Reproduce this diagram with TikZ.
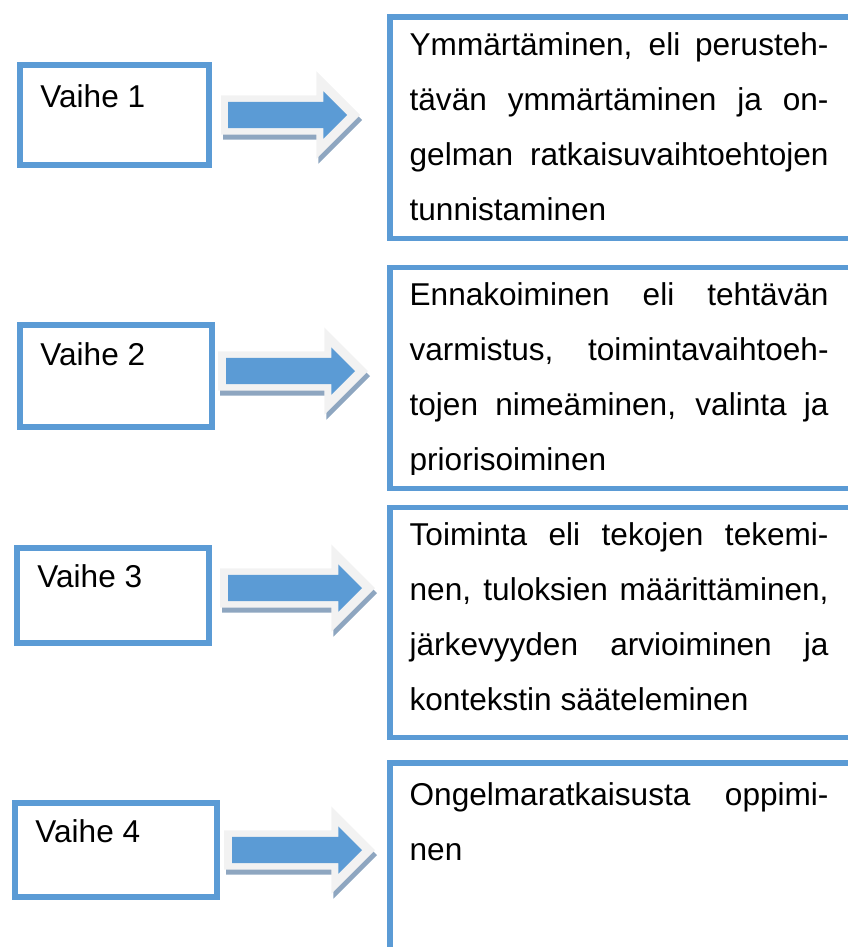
\documentclass[tikz,border=0pt]{standalone}
\usepackage{fontspec}
\setmainfont{Liberation Sans}
\usepackage{tikz}
\usetikzlibrary{positioning, shapes.arrows, shadows}
\definecolor{boxblue}{HTML}{5B9BD5}
\definecolor{rimgray}{HTML}{F2F2F2}
\definecolor{shadegray}{HTML}{8EA6C0}
\newcommand{\pxu}{0.38pt}
\tikzstyle{phase} = [rectangle, draw=boxblue, line width=2.3pt, anchor=north west, inner sep=0pt]
\tikzstyle{stagebox} = [rectangle, draw=boxblue, line width=2.1pt, anchor=north west, inner sep=0pt, minimum width=483*\pxu]
\tikzstyle{phaselabel} = [inner sep=0pt, font={\fontsize{12pt}{20.9pt}\selectfont}]
\tikzstyle{stagetext} = [inner sep=0pt, text width=159.2pt, align=justify, font={\fontsize{12pt}{20.9pt}\selectfont\tolerance=10000 \hyphenpenalty=10000 }]
\tikzstyle{arrowrim} = [single arrow, anchor=tail, fill=rimgray, inner xsep=0pt, inner ysep=19*\pxu, outer sep=0pt, single arrow head extend=24*\pxu, drop shadow={shadow xshift=0.76pt, shadow yshift=-1.9pt, fill=shadegray, opacity=1}]
\tikzstyle{arrowbody} = [single arrow, anchor=tail, fill=boxblue, inner xsep=0pt, inner ysep=12.5*\pxu, outer sep=0pt, single arrow head extend=10.5*\pxu]

\begin{document}
\begin{tikzpicture}[x=0.38pt, y=-0.38pt]
    \useasboundingbox (0,0) rectangle (848,947);
    \clip (0,0) rectangle (848,947);

    % phases
    \node[phase, minimum width=189*\pxu, minimum height=100*\pxu] (p1) at (17,62) {};
    \node[phase, minimum width=192*\pxu, minimum height=102*\pxu] (p2) at (17,322) {};
    \node[phase, minimum width=192*\pxu, minimum height=95*\pxu] (p3) at (14,545) {};
    \node[phase, minimum width=202*\pxu, minimum height=94*\pxu] (p4) at (12,800) {};

    \node[phaselabel, below right=17.2pt and 8.7pt of p1.north west, anchor=base west] (p1-l) {Vaihe 1};
    \node[phaselabel, below right=16.6pt and 8.7pt of p2.north west, anchor=base west] (p2-l) {Vaihe 2};
    \node[phaselabel, below right=16.3pt and 8.7pt of p3.north west, anchor=base west] (p3-l) {Vaihe 3};
    \node[phaselabel, below right=16.3pt and 8.7pt of p4.north west, anchor=base west] (p4-l) {Vaihe 4};

    % arrows
    \node[arrowrim, minimum height=139*\pxu] (a1-rim) at (221,115) {};
    \node[arrowbody, minimum height=119*\pxu] (a1) at (228,115) {};
    \node[arrowrim, minimum height=150*\pxu] (a2-rim) at (218,371) {};
    \node[arrowbody, minimum height=129*\pxu] (a2) at (226,371) {};
    \node[arrowrim, minimum height=155*\pxu] (a3-rim) at (220,588) {};
    \node[arrowbody, minimum height=134*\pxu] (a3) at (228,588) {};
    \node[arrowrim, minimum height=151*\pxu] (a4-rim) at (224,850) {};
    \node[arrowbody, minimum height=130*\pxu] (a4) at (232,850) {};

    % stages
    \node[stagebox, minimum height=221.5*\pxu] (s1) at (387,14) {};
    \node[stagebox, minimum height=221*\pxu] (s2) at (387,264.5) {};
    \node[stagebox, minimum height=230*\pxu] (s3) at (387,504.5) {};
    \node[stagebox, minimum height=230*\pxu] (s4) at (387,760) {};

    \node[stagetext, below right=15.6pt and 8.4pt of s1.north west, anchor=base west] (s1-t) {Ymmärtäminen, eli perusteh-\linebreak tävän ymmärtäminen ja on-\linebreak gelman ratkaisuvaihtoehtojen\linebreak tunnistaminen};
    \begin{scope}
        \clip (387,264.5) rectangle (848,474);
        \node[stagetext, below right=15.4pt and 8.4pt of s2.north west, anchor=base west] (s2-t) {Ennakoiminen eli tehtävän\linebreak varmistus, toimintavaihtoeh-\linebreak tojen nimeäminen, valinta ja\linebreak priorisoiminen};
    \end{scope}
    \node[stagetext, below right=15.4pt and 8.4pt of s3.north west, anchor=base west] (s3-t) {Toiminta eli tekojen tekemi-\linebreak nen, tuloksien määrittäminen,\linebreak järkevyyden arvioiminen ja\linebreak kontekstin sääteleminen};
    \node[stagetext, below right=17.1pt and 8.4pt of s4.north west, anchor=base west] (s4-t) {Ongelmaratkaisusta oppimi-\linebreak nen};
\end{tikzpicture}
\end{document}
